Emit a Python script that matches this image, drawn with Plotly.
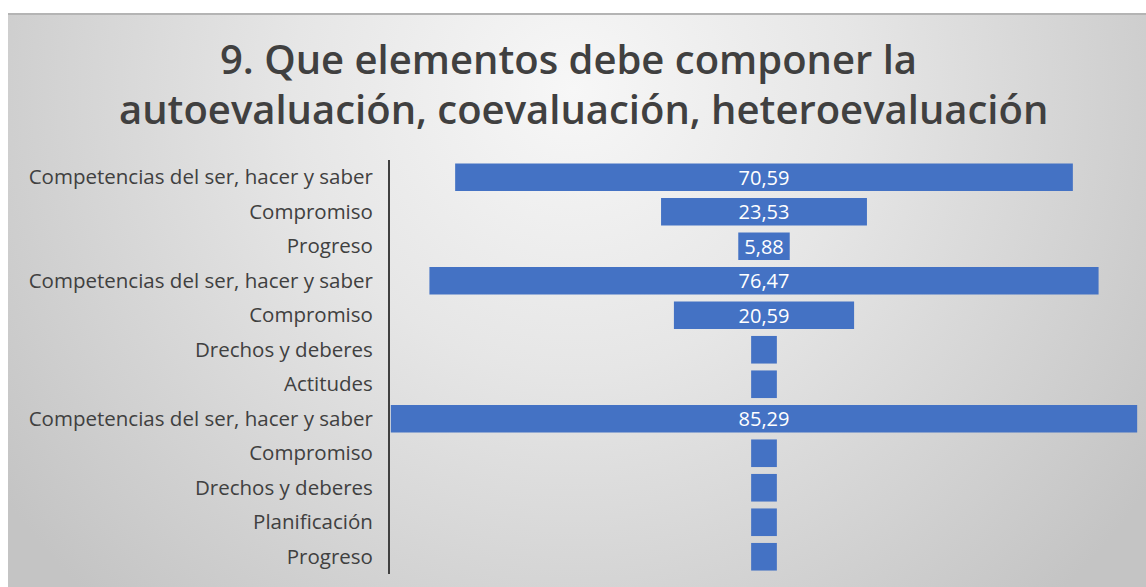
import base64
import plotly.graph_objects as go

categories = [
    "Competencias del ser, hacer y saber",
    "Compromiso",
    "Progreso",
    "Competencias del ser, hacer y saber",
    "Compromiso",
    "Drechos y deberes",
    "Actitudes",
    "Competencias del ser, hacer y saber",
    "Compromiso",
    "Drechos y deberes",
    "Planificación",
    "Progreso",
]
values = [70.59, 23.53, 5.88, 76.47, 20.59, 2.94, 2.94, 85.29, 2.94, 2.94, 2.94, 2.94]
value_labels = ["70,59", "23,53", "5,88", "76,47", "20,59", "", "", "85,29", "", "", "", ""]
title_lines = ["9. Que elementos debe componer la", "autoevaluación, coevaluación, heteroevaluación"]

W, H = 1146, 587
L, R, T, B = 390, 8, 160, 13

svg = f'''<svg xmlns="http://www.w3.org/2000/svg" width="{W}" height="{H}" viewBox="0 0 {W} {H}">
<defs><radialGradient id="g" gradientUnits="userSpaceOnUse" cx="573" cy="90" r="700">
<stop offset="0" stop-color="#f7f7f7"/><stop offset="0.4" stop-color="#e6e6e6"/><stop offset="1" stop-color="#c4c4c4"/>
</radialGradient></defs>
<rect x="0" y="0" width="{W}" height="{H}" fill="#ffffff"/>
<rect x="8" y="13" width="{W-8}" height="{H-13}" fill="url(#g)"/>
<rect x="8" y="13" width="{W-8}" height="2" fill="#b4b4b4"/>
</svg>'''
src = "data:image/svg+xml;base64," + base64.b64encode(svg.encode()).decode()

pw = W - L - R
ph = H - T - B

ypos = list(range(len(categories)))

fig = go.Figure()
fig.add_trace(go.Bar(
    y=ypos,
    x=values,
    base=[-v / 2 for v in values],
    orientation="h",
    marker=dict(color="#4472C4", line=dict(width=0)),
    text=value_labels,
    textposition="inside",
    insidetextanchor="middle",
    constraintext="none",
    textfont=dict(color="white", size=20, family="Open Sans"),
    hoverinfo="skip",
))

title_font = dict(family="Open Sans", size=40, color="#404040", weight=600)
fig.update_layout(
    width=W, height=H,
    margin=dict(l=L, r=R, t=T, b=B, pad=0),
    paper_bgcolor="white",
    plot_bgcolor="rgba(0,0,0,0)",
    showlegend=False,
    bargap=0.2,
    images=[dict(
        source=src, xref="paper", yref="paper",
        x=-L / pw, y=(H - B) / ph, sizex=W / pw, sizey=H / ph,
        xanchor="left", yanchor="top", sizing="stretch", layer="below",
    )],
    annotations=[
        dict(text=title_lines[0], xref="paper", yref="paper",
             x=(568 - L) / pw, y=1 + (T - 58) / ph, xanchor="center", yanchor="middle",
             showarrow=False, font=title_font),
        dict(text=title_lines[1], xref="paper", yref="paper",
             x=(583 - L) / pw, y=1 + (T - 109) / ph, xanchor="center", yanchor="middle",
             showarrow=False, font=title_font),
    ],
)
fig.update_xaxes(range=[-42.74, 42.74], visible=False, fixedrange=True)
fig.update_yaxes(
    range=[len(categories) - 0.5, -0.5],
    tickmode="array", tickvals=ypos, ticktext=categories,
    showline=True, linecolor="#404040", linewidth=2,
    showgrid=False, zeroline=False, ticks="", ticklen=0,
    tickfont=dict(family="Open Sans", size=20.5, color="#404040"),
    ticklabelstandoff=11, fixedrange=True,
)

fig.write_html(
    "out.html",
    config={"displayModeBar": False, "staticPlot": True},
    post_script="document.body.style.margin='0';document.body.style.overflow='hidden';",
)
